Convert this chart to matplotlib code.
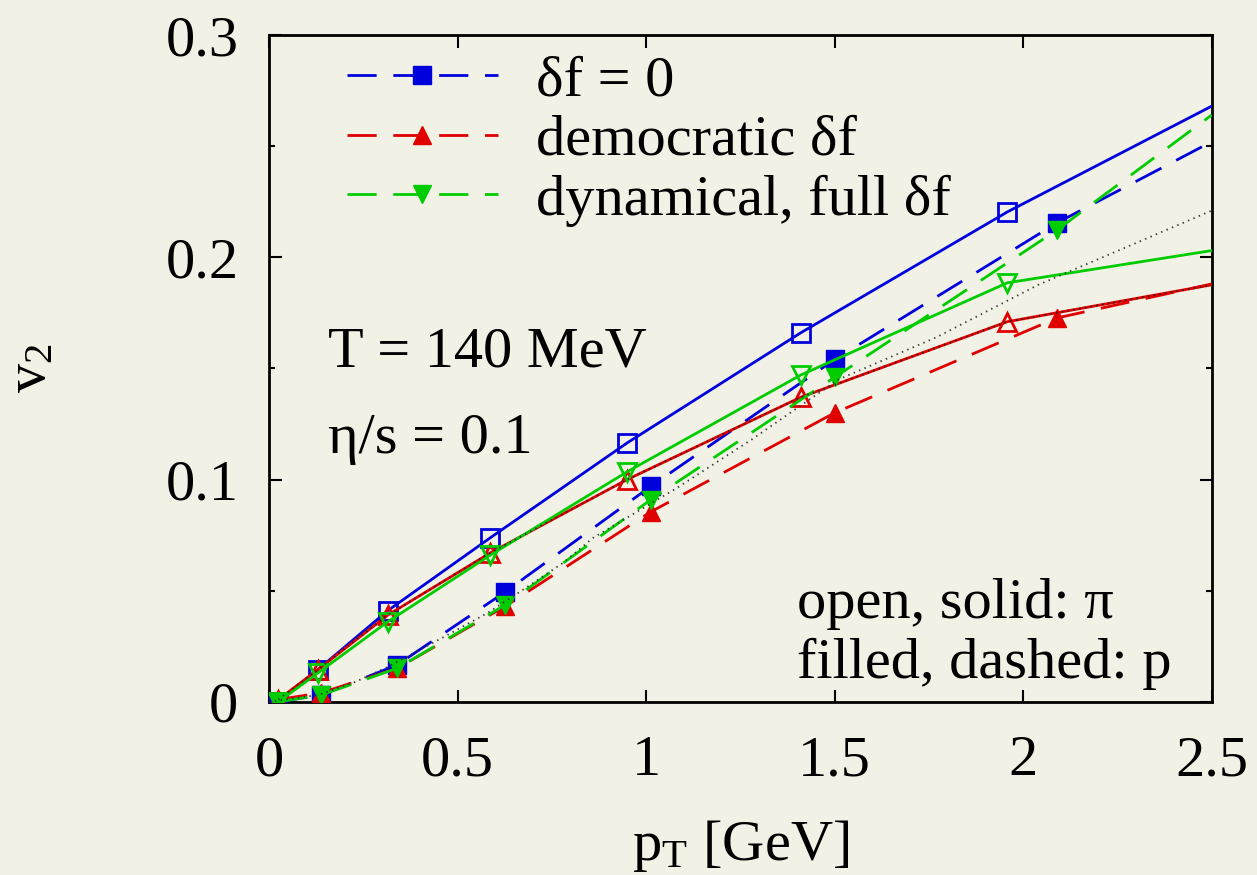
import matplotlib
matplotlib.use('Agg')
import matplotlib.pyplot as plt
from matplotlib.lines import Line2D
import numpy as np

plt.rcParams['font.family'] = ['Liberation Serif', 'DejaVu Serif']
plt.rcParams['mathtext.fontset'] = 'custom'
plt.rcParams['mathtext.rm'] = 'Liberation Serif'
plt.rcParams['mathtext.it'] = 'Liberation Serif:italic'
plt.rcParams['lines.scale_dashes'] = False

# pT grid of the markers; the curves run on to the right edge at 2.5 GeV
pt_pion = [0.025, 0.13, 0.315, 0.587, 0.95, 1.41, 1.958, 2.5]
pt_prot = [0.025, 0.138, 0.339, 0.627, 1.013, 1.50, 2.09, 2.5]

# v2 for pions (open markers, solid lines)
pion_df0 = [0.000, 0.0145, 0.041, 0.0738, 0.1165, 0.166, 0.2204, 0.268]
pion_demo = [0.001, 0.0145, 0.039, 0.067, 0.100, 0.137, 0.171, 0.1876]
pion_dyn = [0.000, 0.013, 0.036, 0.066, 0.1035, 0.147, 0.1885, 0.203]

# v2 for protons (filled markers, dashed lines)
prot_df0 = [0.000, 0.003, 0.0165, 0.0495, 0.097, 0.154, 0.2155, 0.252]
prot_demo = [0.001, 0.004, 0.015, 0.043, 0.0855, 0.130, 0.1727, 0.188]
prot_dyn = [0.000, 0.003, 0.015, 0.0436, 0.091, 0.146, 0.2123, 0.264]

# dotted reference curve for protons
pt_ref = [0.0, 0.13, 0.23, 0.31, 0.46, 0.58, 0.67, 0.78, 0.86, 1.08, 1.28, 1.51, 1.77, 2.04, 2.5]
v2_ref = [0.0, 0.003, 0.009, 0.0153, 0.0288, 0.040, 0.050, 0.0625, 0.0738, 0.096, 0.118, 0.145, 0.164, 0.1876, 0.221]

labels = ['\u03b4f = 0', 'democratic \u03b4f', 'dynamical, full \u03b4f']
colors = ['#0000dd', '#e00000', '#00cc00']
mk_pion = ['s', '^', 'v']
mk_prot = ['s', '^', 'v']

bg = '#f2f1e6'
dash = (21, 12)
lw = 2.0
ms = 13
fs = 42

fig = plt.figure(figsize=(12.57, 8.75), dpi=100, facecolor=bg)
ax = fig.add_axes([0.214, 0.198, 0.750, 0.762], facecolor=bg)

pion_sets = [pion_df0, pion_demo, pion_dyn]
prot_sets = [prot_df0, prot_demo, prot_dyn]
marks = list(range(7))

for i in range(3):
    ax.plot(pt_prot, prot_sets[i], color=colors[i], lw=lw, dashes=dash,
            marker=mk_prot[i], ms=ms, markevery=marks, mfc=colors[i],
            mec=colors[i], zorder=3 + i)
    ax.plot(pt_pion, pion_sets[i], color=colors[i], lw=lw,
            marker=mk_pion[i], ms=ms, markevery=marks, mfc='none',
            mec=colors[i], mew=2.0, zorder=3 + i)

# dotted curves (one runs on top of the democratic pion line)
ax.plot(pt_ref, v2_ref, color='#333333', lw=1.3, dashes=(1, 3.2), zorder=7)
ax.plot(pt_pion, pion_demo, color='#222222', lw=1.3, dashes=(1, 3.2), zorder=7)

ax.set_xlim(0, 2.5)
ax.set_ylim(0, 0.3)
ax.set_xticks([0, 0.5, 1, 1.5, 2, 2.5])
ax.set_xticklabels(['0', '0.5', '1', '1.5', '2', '2.5'])
ax.set_yticks([0, 0.1, 0.2, 0.3])
ax.set_yticklabels(['0', '0.1', '0.2', '0.3'])
ax.set_yticks(np.arange(0.05, 0.3, 0.1), minor=True)
ax.tick_params(which='both', direction='in', top=True, right=True,
               labelsize=fs, width=1.5)
ax.tick_params(axis='x', which='major', length=9, pad=24)
ax.tick_params(axis='y', which='major', length=9, pad=22)
ax.tick_params(which='minor', length=4.5)
for s in ax.spines.values():
    s.set_linewidth(2)

ax.set_xlabel('$\\mathregular{p_T}$ [GeV]', fontsize=fs, labelpad=22)
ax.set_ylabel('$\\mathregular{v_2}$', fontsize=fs, labelpad=78)

ax.text(0.157, 0.157, 'T = 140 MeV', fontsize=fs, va='center')
ax.text(0.157, 0.118, '\u03b7/s = 0.1', fontsize=fs, va='center')
ax.text(1.40, 0.044, 'open, solid: \u03c0', fontsize=fs, va='center')
ax.text(1.40, 0.017, 'filled, dashed: p', fontsize=fs, va='center')

handles = [Line2D([], [], color=colors[i], lw=lw, dashes=dash,
                  marker=mk_prot[i], ms=ms, mfc=colors[i], mec=colors[i])
           for i in range(3)]
ax.legend(handles, labels, loc='upper left', bbox_to_anchor=(0.0575, 1.006),
          frameon=False, fontsize=fs, handlelength=2.6, handletextpad=0.64,
          labelspacing=0.12, numpoints=1, borderaxespad=0)

plt.savefig('out.png', dpi=100, facecolor=bg)
